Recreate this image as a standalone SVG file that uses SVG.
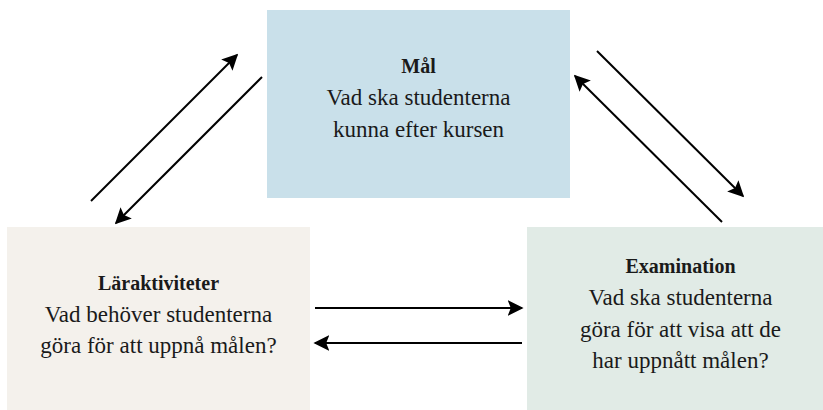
<svg xmlns="http://www.w3.org/2000/svg" width="823" height="410" viewBox="0 0 823 410">
<defs>
<style>
.t{font-family:"Liberation Serif","Times New Roman",serif;font-size:23px;fill:#1a1a1a;text-anchor:middle}
.b{font-weight:bold;font-size:20px}
.c{stroke:#000;stroke-width:2;fill:none;marker-end:url(#ah)}
</style>
<marker id="ah" viewBox="0 0 10 10" refX="9" refY="5" markerWidth="8" markerHeight="8" markerUnits="strokeWidth" orient="auto">
<path d="M0,0 L10,5 L0,10 L2,5 z" fill="#000"/>
</marker>
</defs>
<rect width="823" height="410" fill="#fff"/>
<g id="mal">
<rect x="267" y="10" width="303" height="188" fill="#c9e0ea"/>
<text class="t b" x="418.5" y="73">Mål</text>
<text class="t" x="418.5" y="105">Vad ska studenterna</text>
<text class="t" x="418.5" y="137">kunna efter kursen</text>
</g>
<g id="laraktiviteter">
<rect x="7" y="227" width="303" height="183" fill="#f4f1ec"/>
<text class="t b" x="158.5" y="290">Läraktiviteter</text>
<text class="t" x="158.5" y="322">Vad behöver studenterna</text>
<text class="t" x="158.5" y="353">göra för att uppnå målen?</text>
</g>
<g id="examination">
<rect x="527" y="227" width="300" height="183" fill="#e1ebe6"/>
<text class="t b" x="680.5" y="273">Examination</text>
<text class="t" x="680.5" y="305">Vad ska studenterna</text>
<text class="t" x="680.5" y="337">göra för att visa att de</text>
<text class="t" x="680.5" y="368">har uppnått målen?</text>
</g>
<g id="connectors">
<line class="c" x1="91" y1="201" x2="237" y2="55"/>
<line class="c" x1="262" y1="77" x2="116" y2="223"/>
<line class="c" x1="597" y1="51" x2="743" y2="196"/>
<line class="c" x1="722" y1="222" x2="575" y2="76"/>
<line class="c" x1="315" y1="308" x2="522" y2="308"/>
<line class="c" x1="522" y1="343" x2="315" y2="343"/>
</g>
</svg>
